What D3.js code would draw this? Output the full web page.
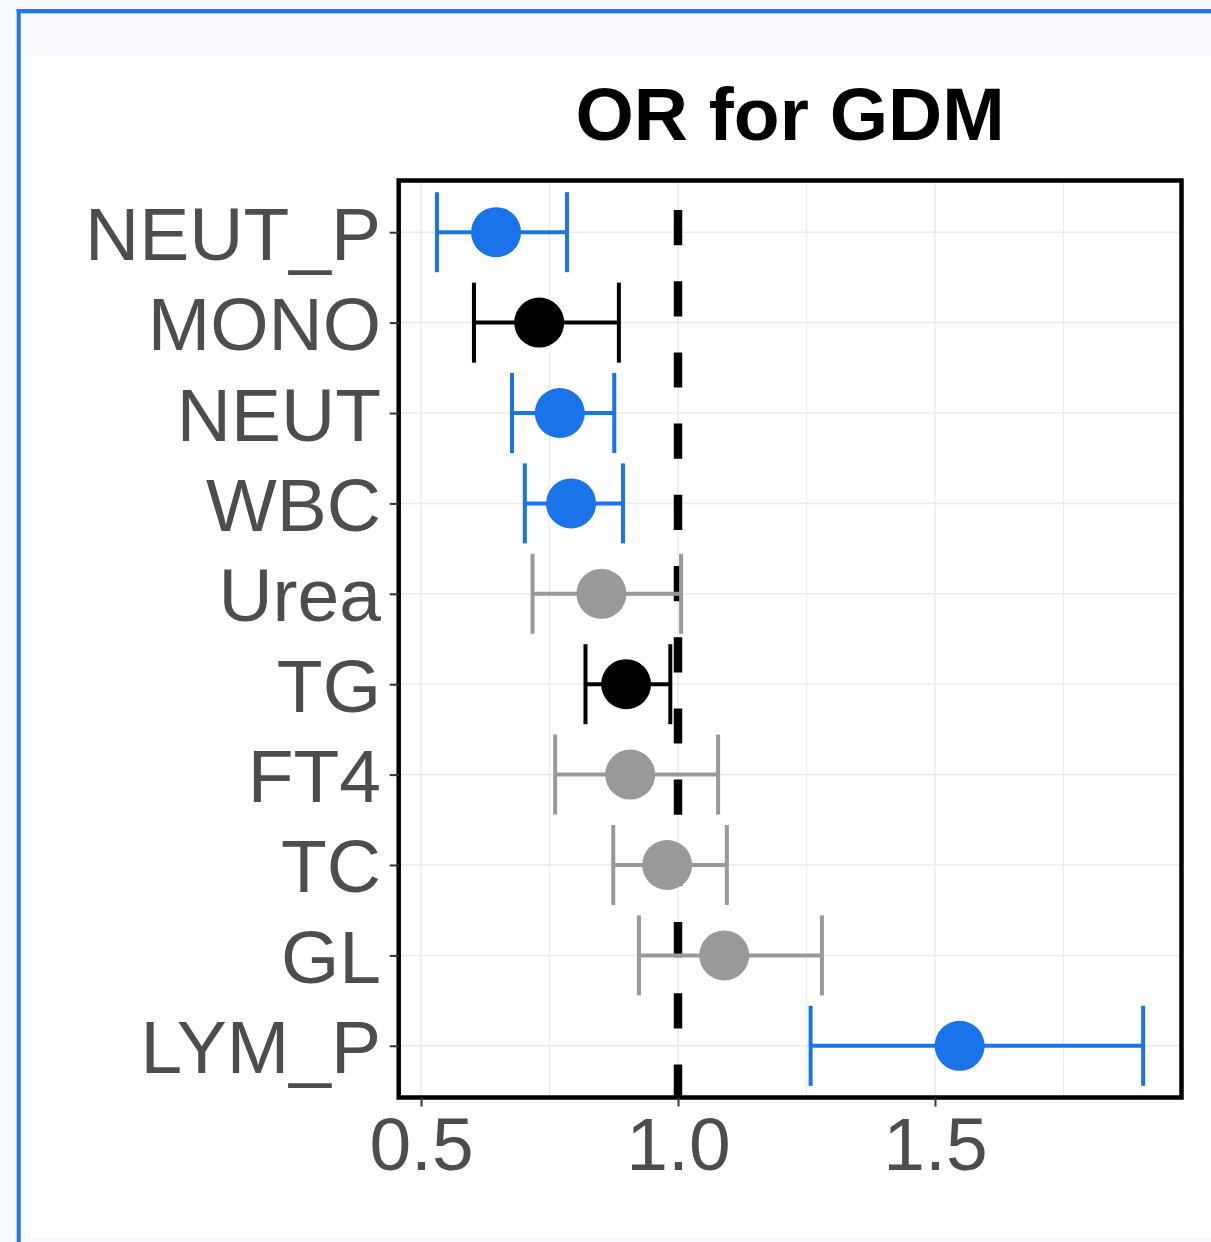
<!DOCTYPE html>
<html>
<head>
<meta charset="utf-8">
<script src="https://cdn.jsdelivr.net/npm/d3@7"></script>
<style>
  html, body { margin: 0; padding: 0; background: #f8faff; }
  svg { display: block; }
</style>
</head>
<body>
<script>
// ---- Data ----
const categories = ["NEUT_P", "MONO", "NEUT", "WBC", "Urea", "TG", "FT4", "TC", "GL", "LYM_P"];
const orValues   = [0.646, 0.730, 0.770, 0.792, 0.851, 0.899, 0.907, 0.979, 1.090, 1.548];
const lowerCI    = [0.531, 0.603, 0.677, 0.702, 0.717, 0.820, 0.761, 0.874, 0.924, 1.258];
const upperCI    = [0.784, 0.885, 0.876, 0.893, 1.006, 0.985, 1.078, 1.095, 1.280, 1.905];
const groups     = ["blood cell", "other sig", "blood cell", "blood cell", "not sig", "other sig", "not sig", "not sig", "not sig", "blood cell"];
const groupNames = ["blood cell", "other sig", "not sig"];
const groupColors = ["#1a73e8", "#000000", "#999999"];
const xMajorTicks = [0.5, 1.0, 1.5];
const xMinorTicks = [0.75, 1.25, 1.75];
const referenceLine = 1.0;
const titleText = "OR for GDM";

const rows = categories.map((c, i) => ({
  name: c, or: orValues[i], lo: lowerCI[i], hi: upperCI[i], group: groups[i]
}));

// ---- Layout ----
const W = 1211, H = 1242;
const panel = { left: 398.7, right: 1181.5, top: 180.5, bottom: 1097.5 };

const svg = d3.select("body").append("svg").attr("width", W).attr("height", H);

// page frame
svg.append("rect").attr("x", 0).attr("y", 0).attr("width", W).attr("height", H).attr("fill", "#f8faff");
svg.append("rect").attr("x", 31).attr("y", 56).attr("width", W - 31).attr("height", 1182).attr("fill", "#ffffff");
svg.append("rect").attr("x", 16.7).attr("y", 9).attr("width", 4).attr("height", H - 9).attr("fill", "#1f77ea");
svg.append("rect").attr("x", 16.7).attr("y", 9).attr("width", W - 16.7).attr("height", 4.3).attr("fill", "#1f77ea");

// scales
const x = d3.scaleLinear().domain([0.4566, 1.9796]).range([panel.left, panel.right]);
const y = d3.scalePoint().domain(categories).range([panel.top, panel.bottom]).padding(0.572);
const color = d3.scaleOrdinal().domain(groupNames).range(groupColors);

// gridlines
const grid = svg.append("g");
grid.selectAll("line.minor").data(xMinorTicks).join("line")
  .attr("x1", d => x(d)).attr("x2", d => x(d))
  .attr("y1", panel.top).attr("y2", panel.bottom)
  .attr("stroke", "#ebebeb").attr("stroke-width", 1);
grid.selectAll("line.majx").data(xMajorTicks).join("line")
  .attr("x1", d => x(d)).attr("x2", d => x(d))
  .attr("y1", panel.top).attr("y2", panel.bottom)
  .attr("stroke", "#ebebeb").attr("stroke-width", 1.5);
grid.selectAll("line.majy").data(categories).join("line")
  .attr("x1", panel.left).attr("x2", panel.right)
  .attr("y1", d => y(d)).attr("y2", d => y(d))
  .attr("stroke", "#ebebeb").attr("stroke-width", 1.5);

// reference dashed line
svg.append("line")
  .attr("x1", x(referenceLine)).attr("x2", x(referenceLine))
  .attr("y1", panel.top).attr("y2", panel.bottom)
  .attr("stroke", "#000").attr("stroke-width", 8.5)
  .attr("stroke-dasharray", "35.2,36")
  .attr("stroke-dashoffset", 41.7);

// error bars
const capH = 40;
const eb = svg.append("g").selectAll("g").data(rows).join("g")
  .attr("stroke", d => color(d.group)).attr("stroke-width", 4).attr("fill", "none");
eb.append("line")
  .attr("x1", d => x(d.lo)).attr("x2", d => x(d.hi))
  .attr("y1", d => y(d.name)).attr("y2", d => y(d.name));
eb.append("line")
  .attr("x1", d => x(d.lo)).attr("x2", d => x(d.lo))
  .attr("y1", d => y(d.name) - capH).attr("y2", d => y(d.name) + capH);
eb.append("line")
  .attr("x1", d => x(d.hi)).attr("x2", d => x(d.hi))
  .attr("y1", d => y(d.name) - capH).attr("y2", d => y(d.name) + capH);

// points
svg.append("g").selectAll("circle").data(rows).join("circle")
  .attr("cx", d => x(d.or)).attr("cy", d => y(d.name)).attr("r", 25)
  .attr("fill", d => color(d.group));

// panel border
svg.append("rect")
  .attr("x", panel.left).attr("y", panel.top)
  .attr("width", panel.right - panel.left).attr("height", panel.bottom - panel.top)
  .attr("fill", "none").attr("stroke", "#000").attr("stroke-width", 4.5);

// axes
const fontFam = "'Liberation Sans', Arial, Helvetica, sans-serif";
const xAxis = svg.append("g")
  .attr("transform", `translate(0,${panel.bottom})`)
  .call(d3.axisBottom(x).tickValues(xMajorTicks).tickFormat(d3.format(".1f")).tickSize(9).tickPadding(14));
xAxis.select(".domain").remove();
xAxis.selectAll(".tick line").attr("stroke", "#333").attr("stroke-width", 2);
xAxis.selectAll(".tick text")
  .attr("fill", "#4d4d4d").attr("font-family", fontFam).attr("font-size", 75)
  .attr("dy", null).attr("y", 1170 - panel.bottom);

const yAxis = svg.append("g")
  .attr("transform", `translate(${panel.left},0)`)
  .call(d3.axisLeft(y).tickSize(9).tickPadding(8));
yAxis.select(".domain").remove();
yAxis.selectAll(".tick line").attr("stroke", "#333").attr("stroke-width", 2);
yAxis.selectAll(".tick text")
  .attr("fill", "#4d4d4d").attr("font-family", fontFam).attr("font-size", 75)
  .attr("x", 381 - panel.left)
  .attr("dy", "0.36em");

// title
svg.append("text")
  .attr("x", (panel.left + panel.right) / 2).attr("y", 140)
  .attr("text-anchor", "middle")
  .attr("font-family", fontFam).attr("font-weight", "bold").attr("font-size", 75)
  .attr("fill", "#000")
  .text(titleText);
</script>
</body>
</html>
